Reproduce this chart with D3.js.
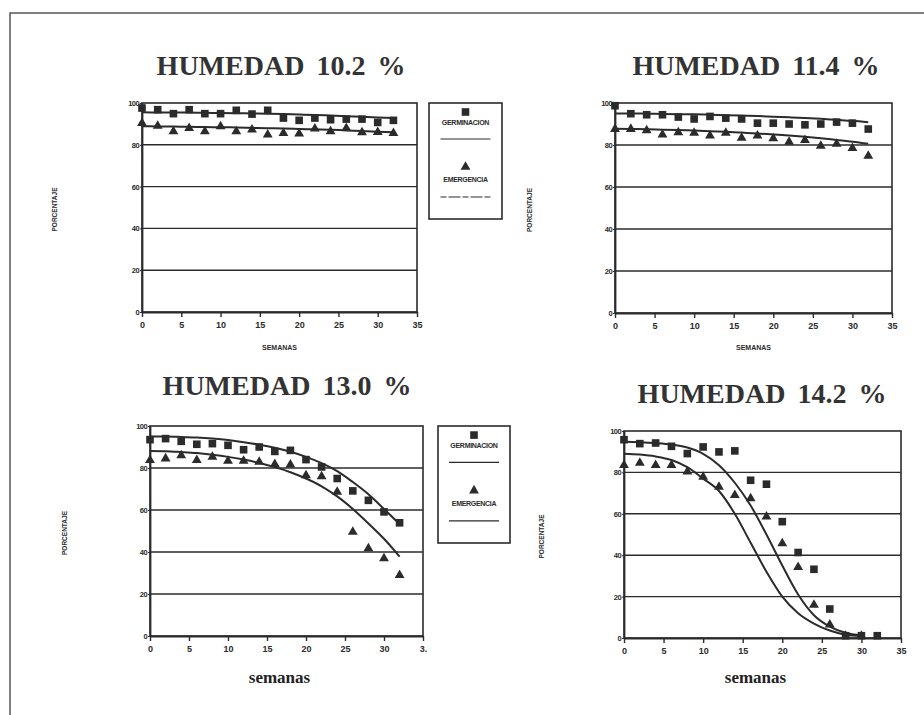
<!DOCTYPE html>
<html>
<head>
<meta charset="utf-8">
<script src="https://cdn.jsdelivr.net/npm/d3@7"></script>
<style>
  html, body { margin: 0; padding: 0; background: #fff; }
  svg { display: block; }
</style>
</head>
<body>
<svg id="chart" width="924" height="715"></svg>
<script>
// ---------------- DATA ----------------
const weeks = [0, 2, 4, 6, 8, 10, 12, 14, 16, 18, 20, 22, 24, 26, 28, 30, 32];
const titles = ["HUMEDAD 10.2 %", "HUMEDAD 11.4 %", "HUMEDAD 13.0 %", "HUMEDAD 14.2 %"];
const xTicks = [0, 5, 10, 15, 20, 25, 30, 35];
const yTicks = [0, 20, 40, 60, 80, 100];
const legendLabels = ["GERMINACION", "EMERGENCIA"];

// Humedad 10.2 %
const germ102 = [97.6, 96.8, 94.9, 96.8, 94.9, 94.9, 96.5, 94.7, 96.5, 92.8, 91.7, 92.8, 92.0, 92.3, 92.3, 90.7, 91.7];
const emer102 = [90.4, 89.0, 86.4, 88.0, 86.4, 88.8, 86.4, 87.2, 84.8, 85.6, 85.3, 87.7, 86.4, 88.0, 85.9, 86.0, 85.6];
const germFit102 = [95.6, 95.5, 95.5, 95.4, 95.3, 95.2, 95.1, 95.0, 94.9, 94.7, 94.5, 94.3, 94.0, 93.7, 93.4, 93.1, 92.8];
const emerFit102 = [88.9, 88.8, 88.7, 88.6, 88.5, 88.4, 88.3, 88.1, 87.9, 87.8, 87.6, 87.4, 87.2, 86.9, 86.6, 86.3, 86.0];

// Humedad 11.4 %
const germ114 = [98.7, 94.9, 94.4, 94.4, 93.3, 92.4, 93.6, 92.8, 92.4, 90.4, 90.4, 90.0, 89.6, 90.0, 90.9, 90.4, 87.6];
const emer114 = [87.6, 87.6, 86.9, 84.9, 86.0, 85.7, 84.4, 85.7, 83.4, 84.4, 83.1, 81.5, 82.3, 79.6, 80.5, 78.5, 74.8];
const germFit114 = [95.0, 95.0, 94.9, 94.8, 94.7, 94.6, 94.4, 94.2, 94.0, 93.8, 93.5, 93.2, 92.9, 92.5, 92.0, 91.5, 90.8];
const emerFit114 = [87.7, 87.6, 87.5, 87.3, 87.1, 86.9, 86.6, 86.3, 85.9, 85.5, 85.0, 84.5, 83.9, 83.2, 82.4, 81.6, 80.6];

// Humedad 13.0 %
const germ130 = [93.5, 94.0, 92.7, 91.3, 91.6, 90.8, 88.7, 90.0, 87.9, 88.4, 84.0, 80.5, 75.0, 69.1, 64.6, 59.1, 53.9];
const emer130 = [83.7, 84.5, 86.0, 83.7, 85.3, 83.4, 83.4, 82.9, 81.8, 81.6, 76.5, 76.0, 68.6, 49.6, 41.7, 36.9, 29.0];
const germFit130 = [95.0, 95.0, 94.8, 94.5, 94.0, 93.3, 92.3, 91.1, 89.6, 87.7, 85.3, 82.3, 78.5, 73.3, 67.5, 60.5, 53.3];
const emerFit130 = [88.1, 88.0, 87.6, 87.1, 86.3, 85.3, 84.0, 82.4, 80.4, 78.0, 75.0, 71.3, 66.5, 60.5, 53.6, 46.3, 37.8];

// Humedad 14.2 %
const germ142 = [95.8, 93.9, 94.2, 92.6, 89.1, 92.3, 89.9, 90.4, 76.2, 74.3, 56.2, 41.3, 33.2, 14.0, 1.1, 1.1, 1.1];
const emer142 = [83.5, 84.6, 83.5, 83.5, 80.3, 77.8, 73.0, 69.0, 67.4, 58.6, 45.7, 34.2, 16.0, 6.4, 1.0, 1.0];
const germFit142 = [94.8, 94.6, 94.2, 93.5, 92.0, 89.0, 83.5, 75.0, 64.0, 50.0, 35.0, 21.0, 11.0, 5.5, 2.5, 1.2];
const emerFit142 = [89.0, 88.6, 87.7, 86.0, 82.5, 77.0, 71.0, 60.0, 46.0, 32.0, 20.0, 12.0, 7.0, 3.6, 1.6, 1.0];

// ---------------- LAYOUT ----------------
const ink = "#2b2b2b";
const panels = [
  { title: titles[0], tx: 281, ty: 75, x0: 142, x1: 417, y0: 103, y1: 312, germ: germ102, emer: emer102, gf: germFit102, ef: emerFit102, xlab: "SEMANAS", xlabY: 350, ylabX: 57, legend: { x: 429, y: 103, w: 73, h: 116, dashEmer: true } },
  { title: titles[1], tx: 756, ty: 75, x0: 615, x1: 892, y0: 103, y1: 313, germ: germ114, emer: emer114, gf: germFit114, ef: emerFit114, xlab: "SEMANAS", xlabY: 350, ylabX: 532 },
  { title: titles[2], tx: 287, ty: 395, x0: 150, x1: 423, y0: 426, y1: 636, germ: germ130, emer: emer130, gf: germFit130, ef: emerFit130, xlab: "semanas", xlabY: 683, ylabX: 67, cutLast: true, legend: { x: 438, y: 426, w: 72, h: 117, dashEmer: false } },
  { title: titles[3], tx: 762, ty: 403, x0: 624, x1: 901, y0: 431, y1: 638, germ: germ142, emer: emer142, gf: germFit142, ef: emerFit142, xlab: "semanas", xlabY: 683, ylabX: 544 }
];

const svg = d3.select("#chart");
svg.append("rect").attr("width", 924).attr("height", 715).attr("fill", "#fff");

// outer page frame
svg.append("path")
  .attr("d", "M10,715 L10,13 L924,13")
  .attr("fill", "none").attr("stroke", "#555").attr("stroke-width", 1.5);

const sq = d3.symbol().type(d3.symbolSquare).size(58);
const tri = d3.symbol().type(d3.symbolTriangle).size(42);

panels.forEach(p => {
  const g = svg.append("g");
  const x = d3.scaleLinear().domain([0, 35]).range([p.x0, p.x1]);
  const y = d3.scaleLinear().domain([0, 100]).range([p.y1, p.y0]);

  // title
  g.append("text")
    .attr("x", p.tx).attr("y", p.ty)
    .attr("text-anchor", "middle")
    .attr("font-family", "'Liberation Serif', 'DejaVu Serif', serif")
    .attr("font-weight", "bold")
    .attr("font-size", 28)
    .attr("word-spacing", 5)
    .attr("fill", "#333")
    .text(p.title);

  // gridlines
  g.selectAll("line.grid").data(yTicks.filter(t => t > 0 && t < 100)).join("line")
    .attr("x1", p.x0).attr("x2", p.x1)
    .attr("y1", d => y(d)).attr("y2", d => y(d))
    .attr("stroke", ink).attr("stroke-width", 1.4);

  // plot frame
  g.append("rect")
    .attr("x", p.x0).attr("y", p.y0)
    .attr("width", p.x1 - p.x0).attr("height", p.y1 - p.y0)
    .attr("fill", "none").attr("stroke", ink).attr("stroke-width", 1.6);

  // x axis
  const xa = g.append("g").attr("transform", `translate(0,${p.y1})`)
    .call(d3.axisBottom(x).tickValues(xTicks).tickSize(5).tickSizeOuter(0)
      .tickFormat(d => (p.cutLast && d === 35) ? "3." : d));
  xa.select(".domain").attr("stroke", ink).attr("stroke-width", 1.8);
  xa.selectAll(".tick line").attr("stroke", ink).attr("stroke-width", 1.4);
  xa.selectAll("text").attr("font-family", "'Liberation Sans', Arial, sans-serif")
    .attr("font-weight", "bold").attr("font-size", 9).attr("fill", ink).attr("dy", "0.9em");

  // y axis
  const ya = g.append("g").attr("transform", `translate(${p.x0},0)`)
    .call(d3.axisLeft(y).tickValues(yTicks).tickSize(2).tickSizeOuter(0).tickPadding(1));
  ya.select(".domain").attr("stroke", ink).attr("stroke-width", 1.8);
  ya.selectAll(".tick line").attr("stroke", ink);
  ya.selectAll("text").attr("font-family", "'Liberation Sans', Arial, sans-serif")
    .attr("font-weight", "bold").attr("font-size", 7.5).attr("fill", ink).attr("letter-spacing", -0.6);

  // axis labels
  if (p.xlab === "SEMANAS") {
    g.append("text").attr("x", (p.x0 + p.x1) / 2).attr("y", p.xlabY)
      .attr("text-anchor", "middle")
      .attr("font-family", "'Liberation Sans', Arial, sans-serif")
      .attr("font-weight", "bold").attr("font-size", 7).attr("fill", ink)
      .text(p.xlab);
  } else {
    g.append("text").attr("x", (p.x0 + p.x1) / 2 - 7).attr("y", p.xlabY)
      .attr("text-anchor", "middle")
      .attr("font-family", "'Liberation Serif', 'DejaVu Serif', serif")
      .attr("font-weight", "bold").attr("font-size", 17).attr("fill", "#222")
      .text(p.xlab);
  }
  const ym = (p.y0 + p.y1) / 2 + 2;
  g.append("text")
    .attr("transform", `translate(${p.ylabX},${ym}) rotate(-90)`)
    .attr("text-anchor", "middle")
    .attr("font-family", "'Liberation Sans', Arial, sans-serif")
    .attr("font-weight", "bold").attr("font-size", 6.5).attr("fill", ink)
    .text("PORCENTAJE");

  // fitted curves
  const line = d3.line().x((d, i) => x(weeks[i])).y(d => y(d)).curve(d3.curveMonotoneX);
  [p.gf, p.ef].forEach(arr => {
    g.append("path").datum(arr).attr("d", line)
      .attr("fill", "none").attr("stroke", ink).attr("stroke-width", 2);
  });

  // observed points
  g.selectAll("path.sq").data(p.germ).join("path")
    .attr("transform", (d, i) => `translate(${x(weeks[i])},${y(d)})`)
    .attr("d", sq).attr("fill", ink);
  g.selectAll("path.tri").data(p.emer).join("path")
    .attr("transform", (d, i) => `translate(${x(weeks[i])},${y(d)})`)
    .attr("d", tri).attr("fill", ink);

  // legend
  if (p.legend) {
    const L = p.legend;
    const lg = svg.append("g");
    lg.append("rect").attr("x", L.x).attr("y", L.y).attr("width", L.w).attr("height", L.h)
      .attr("fill", "none").attr("stroke", ink).attr("stroke-width", 1.6);
    const cx = L.x + L.w / 2;
    const k = L.h / 116;
    lg.append("path").attr("transform", `translate(${cx},${L.y + 9 * k})`).attr("d", sq).attr("fill", ink);
    lg.append("text").attr("x", cx).attr("y", L.y + 22 * k).attr("text-anchor", "middle")
      .attr("font-family", "'Liberation Sans', Arial, sans-serif").attr("font-weight", "bold")
      .attr("font-size", 7).attr("fill", ink).attr("letter-spacing", -0.3).text(legendLabels[0]);
    lg.append("line").attr("x1", cx - 25).attr("x2", cx + 25)
      .attr("y1", L.y + 36 * k).attr("y2", L.y + 36 * k)
      .attr("stroke", ink).attr("stroke-width", 1.2);
    lg.append("path").attr("transform", `translate(${cx},${L.y + 64 * k})`).attr("d", tri).attr("fill", ink);
    lg.append("text").attr("x", cx).attr("y", L.y + 79 * k).attr("text-anchor", "middle")
      .attr("font-family", "'Liberation Sans', Arial, sans-serif").attr("font-weight", "bold")
      .attr("font-size", 7).attr("fill", ink).attr("letter-spacing", -0.3).text(legendLabels[1]);
    lg.append("line").attr("x1", cx - 25).attr("x2", cx + 25)
      .attr("y1", L.y + 94 * k).attr("y2", L.y + 94 * k)
      .attr("stroke", ink).attr("stroke-width", 1.2)
      .attr("stroke-dasharray", L.dashEmer ? "6,2,12,2" : null);
  }
});
</script>
</body>
</html>
